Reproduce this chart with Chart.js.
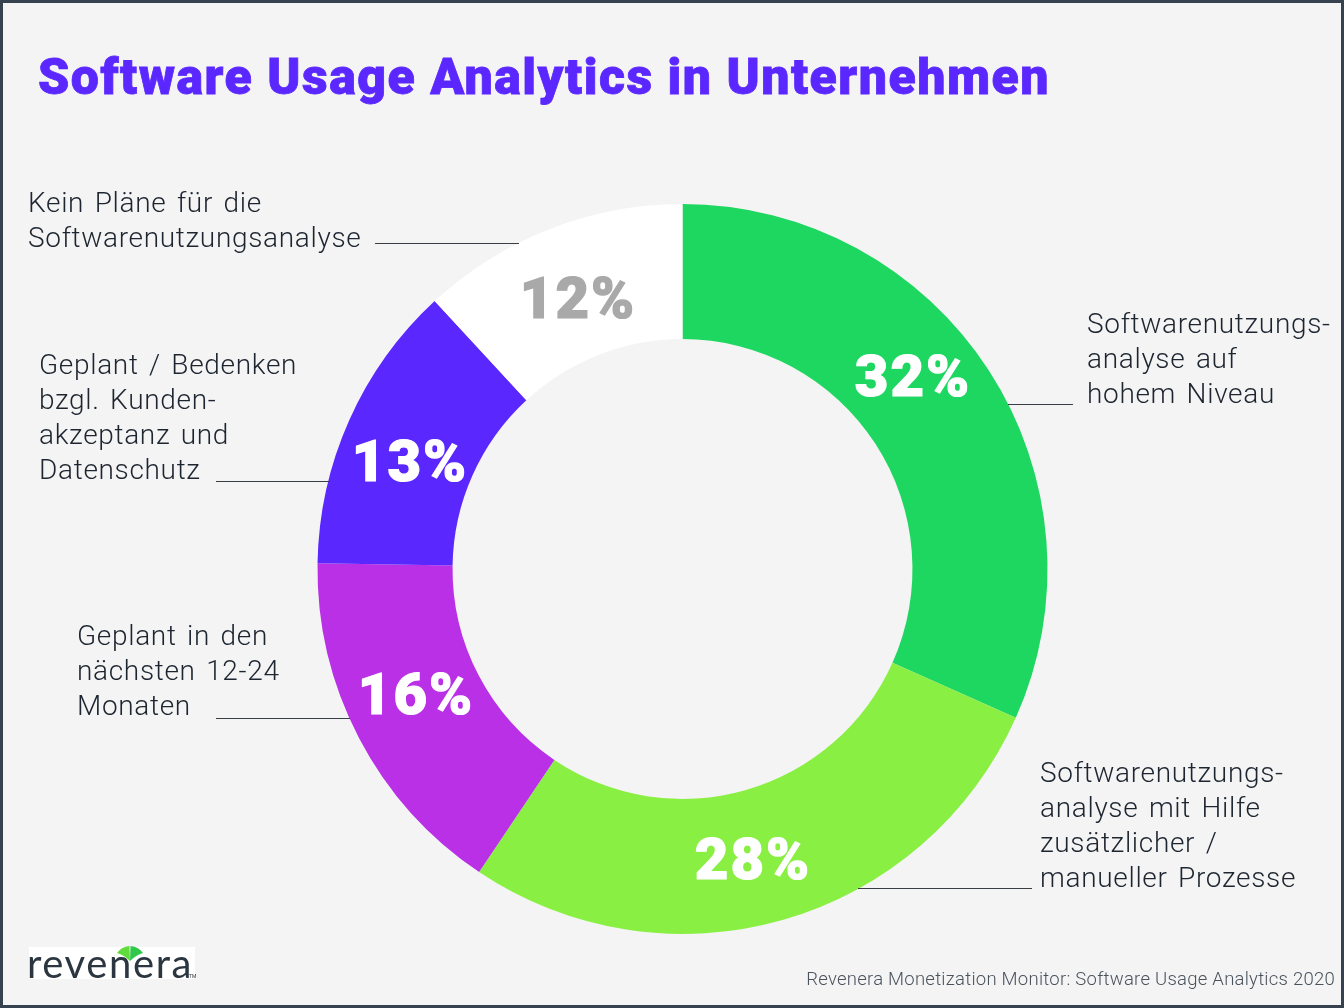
<!DOCTYPE html>
<html lang="de">
<head>
<meta charset="utf-8">
<title>Software Usage Analytics in Unternehmen</title>
<script src="https://cdn.jsdelivr.net/npm/chart.js@4/dist/chart.umd.min.js"></script>
<style>
  html, body { margin: 0; padding: 0; background: #f4f4f4; }
  #wrap { width: 1344px; height: 1008px; }
</style>
</head>
<body>
<div id="wrap"><canvas id="myChart" width="1344" height="1008"></canvas></div>
<script>
const categories = [
  "Softwarenutzungsanalyse auf hohem Niveau",
  "Softwarenutzungsanalyse mit Hilfe zusätzlicher / manueller Prozesse",
  "Geplant in den nächsten 12-24 Monaten",
  "Geplant / Bedenken bzgl. Kundenakzeptanz und Datenschutz",
  "Kein Pläne für die Softwarenutzungsanalyse"
];
const shares = [32, 28, 16, 13, 12];
const sliceColors = ["#1ed760", "#8aef43", "#b930e6", "#5b27ff", "#ffffff"];
const valueColors = ["#ffffff", "#ffffff", "#ffffff", "#ffffff", "#a9a9a9"];
const labelLines = [
  ["Softwarenutzungs-", "analyse auf", "hohem Niveau"],
  ["Softwarenutzungs-", "analyse mit Hilfe", "zusätzlicher /", "manueller Prozesse"],
  ["Geplant in den", "nächsten 12-24", "Monaten"],
  ["Geplant / Bedenken", "bzgl. Kunden-", "akzeptanz und", "Datenschutz"],
  ["Kein Pläne für die", "Softwarenutzungsanalyse"]
];

const valuePos = [[913, 381], [753, 864], [410, 466], [416, 699], [578, 303]];
const valueOrder = [0, 1, 3, 2, 4]; // Slice-Index passend zu valuePos
const labelPos = [[1087, 326], [1040, 775], [77, 638], [39, 367], [28, 205]];
const leaders = [
  [1008, 404, 1073, 404],
  [858, 888, 1032, 888],
  [216, 718, 350, 718],
  [216, 481, 330, 481],
  [375, 243, 519, 243]
];

const annotations = {
  id: "annotations",
  beforeDraw(chart) {
    const ctx = chart.ctx;
    ctx.save();
    ctx.fillStyle = "#f4f4f4";
    ctx.fillRect(0, 0, 1344, 1008);
    ctx.strokeStyle = "#36424f";
    ctx.lineWidth = 3;
    ctx.strokeRect(1.5, 1.5, 1341, 1005);
    ctx.restore();
  },
  afterDraw(chart) {
    const ctx = chart.ctx;
    ctx.save();
    ctx.textBaseline = "middle";

    // Titel
    ctx.fillStyle = "#5b27ff";
    ctx.strokeStyle = "#5b27ff";
    ctx.lineWidth = 0.8;
    ctx.font = "900 50px Roboto";
    ctx.letterSpacing = "1.5px";
    ctx.textAlign = "left";
    const title = "Software Usage Analytics in Unternehmen";
    ctx.fillText(title, 38, 81);
    ctx.strokeText(title, 38, 81);

    // Hinweislinien
    ctx.strokeStyle = "#3a3f45";
    ctx.lineWidth = 1;
    leaders.forEach(([x1, y1, x2, y2]) => {
      ctx.beginPath();
      ctx.moveTo(x1, y1 + 0.5);
      ctx.lineTo(x2, y2 + 0.5);
      ctx.stroke();
    });

    // Kategorien
    ctx.fillStyle = "#1d2530";
    ctx.font = "300 28px Roboto";
    ctx.letterSpacing = "0.67px";
    ctx.wordSpacing = "3px";
    labelLines.forEach((lines, i) => {
      lines.forEach((line, k) => {
        ctx.fillText(line, labelPos[i][0], labelPos[i][1] + k * 35);
      });
    });
    ctx.wordSpacing = "0px";

    // Prozentwerte
    ctx.font = "900 58px Roboto";
    ctx.letterSpacing = "2px";
    ctx.textAlign = "center";
    ctx.lineWidth = 1.2;
    valueOrder.forEach((s, i) => {
      ctx.fillStyle = valueColors[s];
      ctx.strokeStyle = valueColors[s];
      ctx.fillText(shares[s] + "%", valuePos[i][0], valuePos[i][1]);
      ctx.strokeText(shares[s] + "%", valuePos[i][0], valuePos[i][1]);
    });

    // Quelle
    ctx.textAlign = "right";
    ctx.fillStyle = "#4a525c";
    ctx.font = "300 18.5px Roboto";
    ctx.letterSpacing = "0.25px";
    ctx.fillText("Revenera Monetization Monitor: Software Usage Analytics 2020", 1335, 980);

    // Logo
    ctx.textAlign = "left";
    ctx.fillStyle = "#ffffff";
    ctx.fillRect(29, 947, 166, 32);
    ctx.fillStyle = "#2c3640";
    ctx.font = "400 40px Lato";
    ctx.letterSpacing = "1.6px";
    ctx.fillText("revenera", 27, 965);
    ctx.fillStyle = "#5fdc3c";
    ctx.beginPath();
    ctx.moveTo(117, 953);
    ctx.quadraticCurveTo(121, 947, 129.5, 946);
    ctx.lineTo(130, 961);
    ctx.quadraticCurveTo(124, 955, 117, 953);
    ctx.fill();
    ctx.fillStyle = "#2fc84a";
    ctx.beginPath();
    ctx.moveTo(143, 953);
    ctx.quadraticCurveTo(139, 947, 130.5, 946);
    ctx.lineTo(130, 961);
    ctx.quadraticCurveTo(136, 955, 143, 953);
    ctx.fill();
    ctx.fillStyle = "#2c3640";
    ctx.font = "400 5px Roboto";
    ctx.letterSpacing = "0px";
    ctx.fillText("TM", 189, 977);
    ctx.restore();
  }
};

new Chart(document.getElementById("myChart").getContext("2d"), {
  type: "doughnut",
  data: {
    labels: categories,
    datasets: [{
      data: shares,
      backgroundColor: sliceColors,
      borderWidth: 0
    }]
  },
  options: {
    responsive: false,
    animation: false,
    cutout: "63%",
    layout: { padding: { top: 204, bottom: 74, left: 317.5, right: 296.5 } },
    plugins: {
      legend: { display: false },
      tooltip: { enabled: false }
    }
  },
  plugins: [annotations]
});
</script>
</body>
</html>
